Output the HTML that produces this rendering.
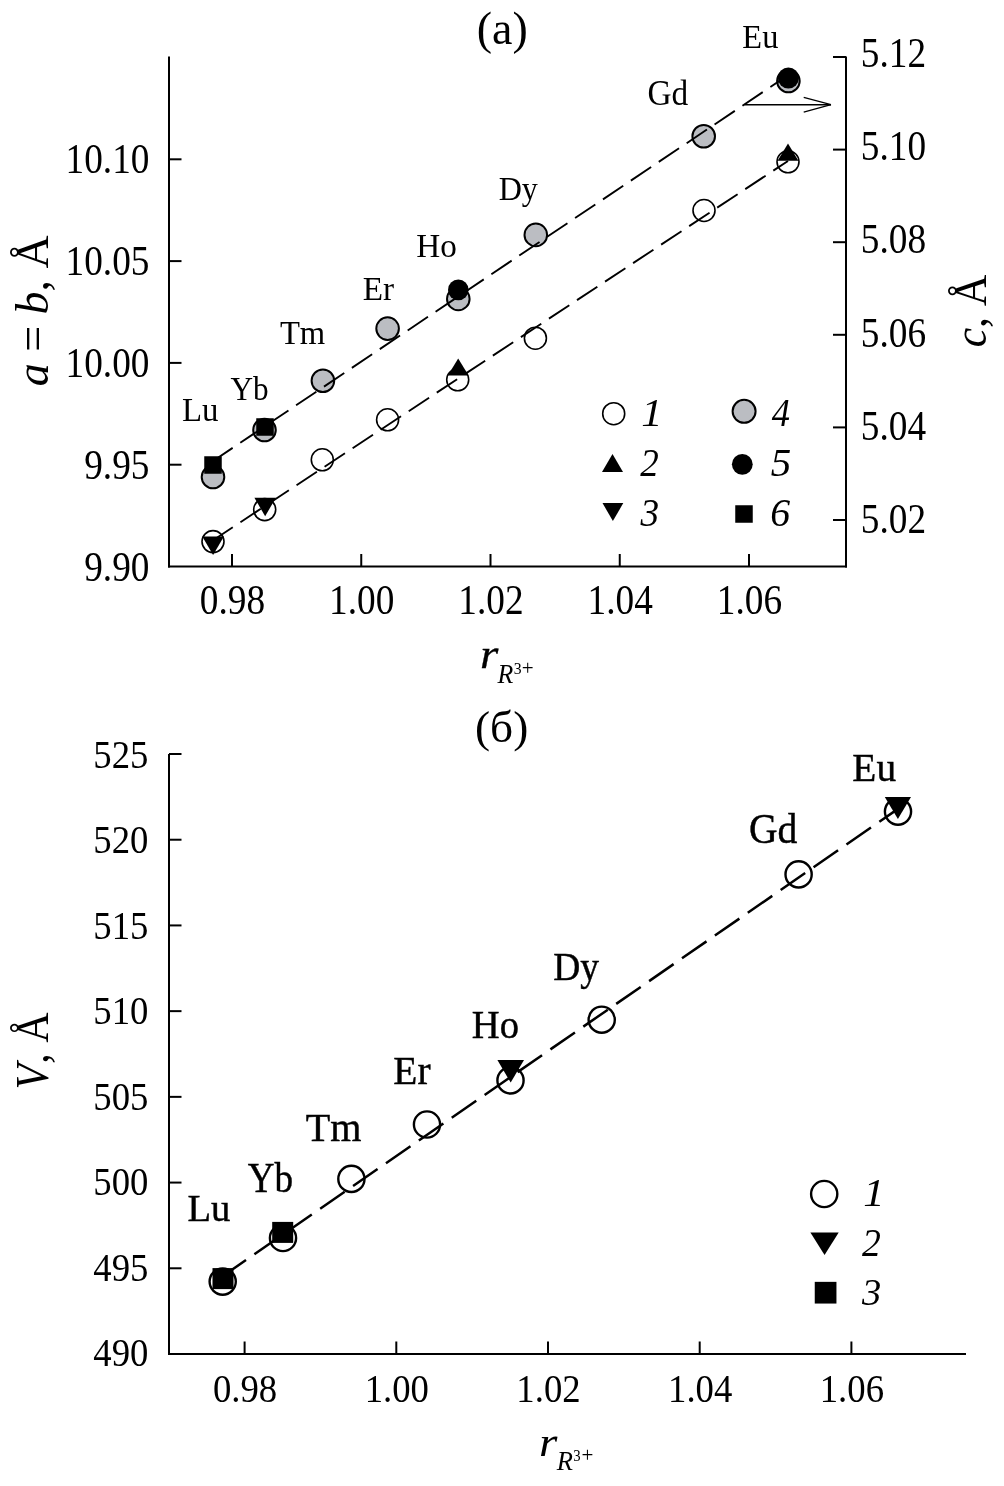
<!DOCTYPE html>
<html><head><meta charset="utf-8"><style>
html,body{margin:0;padding:0;background:#fff;width:1004px;height:1486px;overflow:hidden}
svg{display:block;will-change:transform}
text{font-family:"Liberation Serif",serif;fill:#000}
</style></head><body>
<svg width="1004" height="1486" viewBox="0 0 1004 1486">
<line x1="169.00" y1="56.50" x2="169.00" y2="567.50" stroke="#000" stroke-width="2" />
<line x1="846.00" y1="56.50" x2="846.00" y2="567.50" stroke="#000" stroke-width="2" />
<line x1="168.00" y1="566.50" x2="847.00" y2="566.50" stroke="#000" stroke-width="2" />
<line x1="169.00" y1="159.30" x2="181.50" y2="159.30" stroke="#000" stroke-width="2" />
<text transform="translate(65.53,173.30) scale(0.9050,1)" font-size="41.20" ><tspan font-style="normal" font-weight="normal">10.10</tspan></text>
<line x1="169.00" y1="261.10" x2="181.50" y2="261.10" stroke="#000" stroke-width="2" />
<text transform="translate(65.56,275.10) scale(0.9050,1)" font-size="41.20" ><tspan font-style="normal" font-weight="normal">10.05</tspan></text>
<line x1="169.00" y1="362.90" x2="181.50" y2="362.90" stroke="#000" stroke-width="2" />
<text transform="translate(65.53,376.90) scale(0.9050,1)" font-size="41.20" ><tspan font-style="normal" font-weight="normal">10.00</tspan></text>
<line x1="169.00" y1="464.70" x2="181.50" y2="464.70" stroke="#000" stroke-width="2" />
<text transform="translate(84.21,478.70) scale(0.9050,1)" font-size="41.20" ><tspan font-style="normal" font-weight="normal">9.95</tspan></text>
<text transform="translate(84.17,580.50) scale(0.9050,1)" font-size="41.20" ><tspan font-style="normal" font-weight="normal">9.90</tspan></text>
<line x1="833.00" y1="57.00" x2="846.00" y2="57.00" stroke="#000" stroke-width="2" />
<text transform="translate(860.83,67.00) scale(0.9050,1)" font-size="41.20" ><tspan font-style="normal" font-weight="normal">5.12</tspan></text>
<line x1="833.00" y1="149.60" x2="846.00" y2="149.60" stroke="#000" stroke-width="2" />
<text transform="translate(860.83,160.20) scale(0.9050,1)" font-size="41.20" ><tspan font-style="normal" font-weight="normal">5.10</tspan></text>
<line x1="833.00" y1="242.20" x2="846.00" y2="242.20" stroke="#000" stroke-width="2" />
<text transform="translate(860.83,253.40) scale(0.9050,1)" font-size="41.20" ><tspan font-style="normal" font-weight="normal">5.08</tspan></text>
<line x1="833.00" y1="334.80" x2="846.00" y2="334.80" stroke="#000" stroke-width="2" />
<text transform="translate(860.83,346.60) scale(0.9050,1)" font-size="41.20" ><tspan font-style="normal" font-weight="normal">5.06</tspan></text>
<line x1="833.00" y1="427.40" x2="846.00" y2="427.40" stroke="#000" stroke-width="2" />
<text transform="translate(860.83,439.80) scale(0.9050,1)" font-size="41.20" ><tspan font-style="normal" font-weight="normal">5.04</tspan></text>
<line x1="833.00" y1="520.00" x2="846.00" y2="520.00" stroke="#000" stroke-width="2" />
<text transform="translate(860.83,533.00) scale(0.9050,1)" font-size="41.20" ><tspan font-style="normal" font-weight="normal">5.02</tspan></text>
<line x1="232.00" y1="566.50" x2="232.00" y2="554.00" stroke="#000" stroke-width="2" />
<text transform="translate(199.87,614.00) scale(0.9050,1)" font-size="41.20" ><tspan font-style="normal" font-weight="normal">0.98</tspan></text>
<line x1="361.25" y1="566.50" x2="361.25" y2="554.00" stroke="#000" stroke-width="2" />
<text transform="translate(329.12,614.00) scale(0.9050,1)" font-size="41.20" ><tspan font-style="normal" font-weight="normal">1.00</tspan></text>
<line x1="490.50" y1="566.50" x2="490.50" y2="554.00" stroke="#000" stroke-width="2" />
<text transform="translate(458.37,614.00) scale(0.9050,1)" font-size="41.20" ><tspan font-style="normal" font-weight="normal">1.02</tspan></text>
<line x1="619.75" y1="566.50" x2="619.75" y2="554.00" stroke="#000" stroke-width="2" />
<text transform="translate(587.62,614.00) scale(0.9050,1)" font-size="41.20" ><tspan font-style="normal" font-weight="normal">1.04</tspan></text>
<line x1="749.00" y1="566.50" x2="749.00" y2="554.00" stroke="#000" stroke-width="2" />
<text transform="translate(716.87,614.00) scale(0.9050,1)" font-size="41.20" ><tspan font-style="normal" font-weight="normal">1.06</tspan></text>
<circle cx="213.00" cy="541.60" r="11.0" fill="none" stroke="#000" stroke-width="1.6"/>
<circle cx="264.70" cy="509.60" r="11.0" fill="none" stroke="#000" stroke-width="1.6"/>
<circle cx="322.30" cy="459.80" r="11.0" fill="none" stroke="#000" stroke-width="1.6"/>
<circle cx="387.60" cy="419.80" r="11.0" fill="none" stroke="#000" stroke-width="1.6"/>
<circle cx="457.70" cy="379.80" r="11.0" fill="none" stroke="#000" stroke-width="1.6"/>
<circle cx="535.40" cy="338.20" r="11.0" fill="none" stroke="#000" stroke-width="1.6"/>
<circle cx="704.00" cy="210.50" r="11.0" fill="none" stroke="#000" stroke-width="1.6"/>
<circle cx="788.00" cy="161.80" r="11.0" fill="none" stroke="#000" stroke-width="1.6"/>
<circle cx="213.00" cy="477.00" r="11.3" fill="#bbbdc2" stroke="#000" stroke-width="2"/>
<circle cx="264.50" cy="430.00" r="11.3" fill="#bbbdc2" stroke="#000" stroke-width="2"/>
<circle cx="322.90" cy="380.80" r="11.3" fill="#bbbdc2" stroke="#000" stroke-width="2"/>
<circle cx="387.60" cy="328.60" r="11.3" fill="#bbbdc2" stroke="#000" stroke-width="2"/>
<circle cx="458.30" cy="298.90" r="11.3" fill="#bbbdc2" stroke="#000" stroke-width="2"/>
<circle cx="535.80" cy="234.90" r="11.3" fill="#bbbdc2" stroke="#000" stroke-width="2"/>
<circle cx="703.70" cy="136.20" r="11.3" fill="#bbbdc2" stroke="#000" stroke-width="2"/>
<circle cx="788.40" cy="81.00" r="11.3" fill="#bbbdc2" stroke="#000" stroke-width="2"/>
<circle cx="458.30" cy="289.90" r="10.3" fill="#000"/>
<circle cx="788.40" cy="78.00" r="10.5" fill="#000"/>
<rect x="204.25" y="456.25" width="17.5" height="17.5" fill="#000"/>
<rect x="256.25" y="418.25" width="17.5" height="17.5" fill="#000"/>
<polygon points="458.20,358.4 468.6,375.6 447.8,375.6" fill="#000"/>
<polygon points="788.00,143.6 798.4,160.8 777.6,160.8" fill="#000"/>
<polygon points="202.3,536.6 223.9,536.6 213.10,555" fill="#000"/>
<polygon points="254.4,497.8 275.9,497.8 265.15,516.2" fill="#000"/>
<line x1="212.40" y1="461.50" x2="788.40" y2="74.89" stroke="#000" stroke-width="1.9" stroke-dasharray="24.4 9.2"/>
<line x1="212.40" y1="540.70" x2="788.00" y2="160.92" stroke="#000" stroke-width="1.9" stroke-dasharray="24.4 9.2"/>
<line x1="744.50" y1="104.70" x2="831.00" y2="104.70" stroke="#000" stroke-width="1.6" />
<line x1="803.70" y1="97.40" x2="831.00" y2="104.70" stroke="#000" stroke-width="1.2" />
<line x1="803.70" y1="112.20" x2="831.00" y2="104.70" stroke="#000" stroke-width="1.2" />
<text transform="translate(182.05,420.80) scale(0.9966,1)" font-size="32.98" ><tspan font-style="normal" font-weight="normal">Lu</tspan></text>
<text transform="translate(230.45,399.60) scale(0.9333,1)" font-size="33.44" ><tspan font-style="normal" font-weight="normal">Yb</tspan></text>
<text transform="translate(279.91,343.80) scale(0.9823,1)" font-size="33.28" ><tspan font-style="normal" font-weight="normal">Tm</tspan></text>
<text transform="translate(362.84,299.60) scale(0.9669,1)" font-size="34.35" ><tspan font-style="normal" font-weight="normal">Er</tspan></text>
<text transform="translate(416.24,257.10) scale(0.9591,1)" font-size="34.66" ><tspan font-style="normal" font-weight="normal">Ho</tspan></text>
<text transform="translate(498.67,199.90) scale(0.9518,1)" font-size="33.74" ><tspan font-style="normal" font-weight="normal">Dy</tspan></text>
<text transform="translate(647.43,104.50) scale(0.9460,1)" font-size="35.27" ><tspan font-style="normal" font-weight="normal">Gd</tspan></text>
<text transform="translate(742.37,48.40) scale(0.9645,1)" font-size="33.59" ><tspan font-style="normal" font-weight="normal">Eu</tspan></text>
<circle cx="613.70" cy="413.70" r="11.0" fill="none" stroke="#000" stroke-width="1.6"/>
<circle cx="744.10" cy="411.30" r="11.5" fill="#bbbdc2" stroke="#000" stroke-width="2"/>
<polygon points="612.50,454.1 623,472 602,472" fill="#000"/>
<circle cx="742.30" cy="464.30" r="10.4" fill="#000"/>
<polygon points="602.5,503.1 623.3,503.1 612.90,521" fill="#000"/>
<rect x="735.25" y="505.25" width="17.5" height="17.5" fill="#000"/>
<text transform="translate(641.18,425.90) scale(1.0566,1)" font-size="40.30" ><tspan font-style="italic" font-weight="normal">1</tspan></text>
<text transform="translate(640.18,475.50) scale(0.9337,1)" font-size="39.70" ><tspan font-style="italic" font-weight="normal">2</tspan></text>
<text transform="translate(640.55,525.50) scale(0.9354,1)" font-size="39.85" ><tspan font-style="italic" font-weight="normal">3</tspan></text>
<text transform="translate(771.81,425.60) scale(0.9138,1)" font-size="39.85" ><tspan font-style="italic" font-weight="normal">4</tspan></text>
<text transform="translate(770.76,475.50) scale(0.9965,1)" font-size="41.06" ><tspan font-style="italic" font-weight="normal">5</tspan></text>
<text transform="translate(770.29,525.50) scale(0.9697,1)" font-size="41.06" ><tspan font-style="italic" font-weight="normal">6</tspan></text>
<text transform="translate(476.78,43.72) scale(1.0124,1)" font-size="45.42" ><tspan font-style="normal" font-weight="normal">(a)</tspan></text>
<text transform="translate(47.80,386.37) rotate(-90) scale(0.9796,1)" font-size="46.97" ><tspan font-style="italic" font-weight="normal">a</tspan><tspan font-style="normal" font-weight="normal"> = </tspan><tspan font-style="italic" font-weight="normal">b</tspan><tspan font-style="normal" font-weight="normal">, Å</tspan></text>
<text transform="translate(985.70,347.34) rotate(-90) scale(0.9376,1)" font-size="46.52" ><tspan font-style="italic" font-weight="normal">c</tspan><tspan font-style="normal" font-weight="normal">, Å</tspan></text>
<text transform="translate(479.89,667.50) scale(1.1014,1)" font-size="42.87" stroke="#000" stroke-width="0.3"><tspan font-style="italic" font-weight="normal">r</tspan></text>
<text transform="translate(497.44,682.80) scale(0.9728,1)" font-size="26.57" ><tspan font-style="italic" font-weight="normal">R</tspan></text>
<text transform="translate(513.85,673.60) scale(0.9137,1)" font-size="17.22" ><tspan font-style="normal" font-weight="normal">3</tspan></text>
<text transform="translate(521.65,675.00) scale(0.9915,1)" font-size="21.24" ><tspan font-style="normal" font-weight="normal">+</tspan></text>
<line x1="169.00" y1="754.00" x2="169.00" y2="1355.00" stroke="#000" stroke-width="2" />
<line x1="168.00" y1="1354.00" x2="966.00" y2="1354.00" stroke="#000" stroke-width="2" />
<line x1="169.00" y1="754.00" x2="181.50" y2="754.00" stroke="#000" stroke-width="2" />
<text transform="translate(93.35,767.70) scale(0.9000,1)" font-size="40.80" ><tspan font-style="normal" font-weight="normal">525</tspan></text>
<line x1="169.00" y1="839.72" x2="181.50" y2="839.72" stroke="#000" stroke-width="2" />
<text transform="translate(93.32,853.24) scale(0.9000,1)" font-size="40.80" ><tspan font-style="normal" font-weight="normal">520</tspan></text>
<line x1="169.00" y1="925.43" x2="181.50" y2="925.43" stroke="#000" stroke-width="2" />
<text transform="translate(93.35,938.78) scale(0.9000,1)" font-size="40.80" ><tspan font-style="normal" font-weight="normal">515</tspan></text>
<line x1="169.00" y1="1011.14" x2="181.50" y2="1011.14" stroke="#000" stroke-width="2" />
<text transform="translate(93.32,1024.32) scale(0.9000,1)" font-size="40.80" ><tspan font-style="normal" font-weight="normal">510</tspan></text>
<line x1="169.00" y1="1096.86" x2="181.50" y2="1096.86" stroke="#000" stroke-width="2" />
<text transform="translate(93.35,1109.86) scale(0.9000,1)" font-size="40.80" ><tspan font-style="normal" font-weight="normal">505</tspan></text>
<line x1="169.00" y1="1182.57" x2="181.50" y2="1182.57" stroke="#000" stroke-width="2" />
<text transform="translate(93.32,1195.40) scale(0.9000,1)" font-size="40.80" ><tspan font-style="normal" font-weight="normal">500</tspan></text>
<line x1="169.00" y1="1268.29" x2="181.50" y2="1268.29" stroke="#000" stroke-width="2" />
<text transform="translate(93.35,1280.94) scale(0.9000,1)" font-size="40.80" ><tspan font-style="normal" font-weight="normal">495</tspan></text>
<text transform="translate(93.32,1366.48) scale(0.9000,1)" font-size="40.80" ><tspan font-style="normal" font-weight="normal">490</tspan></text>
<line x1="244.60" y1="1354.00" x2="244.60" y2="1341.50" stroke="#000" stroke-width="2" />
<text transform="translate(212.97,1402.00) scale(0.9000,1)" font-size="40.80" ><tspan font-style="normal" font-weight="normal">0.98</tspan></text>
<line x1="396.30" y1="1354.00" x2="396.30" y2="1341.50" stroke="#000" stroke-width="2" />
<text transform="translate(364.67,1402.00) scale(0.9000,1)" font-size="40.80" ><tspan font-style="normal" font-weight="normal">1.00</tspan></text>
<line x1="548.00" y1="1354.00" x2="548.00" y2="1341.50" stroke="#000" stroke-width="2" />
<text transform="translate(516.37,1402.00) scale(0.9000,1)" font-size="40.80" ><tspan font-style="normal" font-weight="normal">1.02</tspan></text>
<line x1="699.70" y1="1354.00" x2="699.70" y2="1341.50" stroke="#000" stroke-width="2" />
<text transform="translate(668.07,1402.00) scale(0.9000,1)" font-size="40.80" ><tspan font-style="normal" font-weight="normal">1.04</tspan></text>
<line x1="851.40" y1="1354.00" x2="851.40" y2="1341.50" stroke="#000" stroke-width="2" />
<text transform="translate(819.77,1402.00) scale(0.9000,1)" font-size="40.80" ><tspan font-style="normal" font-weight="normal">1.06</tspan></text>
<circle cx="222.70" cy="1281.60" r="13.1" fill="none" stroke="#000" stroke-width="2.4"/>
<circle cx="283.00" cy="1238.00" r="13.1" fill="none" stroke="#000" stroke-width="2.4"/>
<circle cx="351.40" cy="1178.90" r="13.1" fill="none" stroke="#000" stroke-width="2.4"/>
<circle cx="427.00" cy="1124.50" r="13.1" fill="none" stroke="#000" stroke-width="2.4"/>
<circle cx="510.50" cy="1080.40" r="13.1" fill="none" stroke="#000" stroke-width="2.4"/>
<circle cx="601.70" cy="1019.70" r="13.1" fill="none" stroke="#000" stroke-width="2.4"/>
<circle cx="798.60" cy="874.40" r="13.1" fill="none" stroke="#000" stroke-width="2.4"/>
<circle cx="898.00" cy="811.60" r="13.1" fill="none" stroke="#000" stroke-width="2.4"/>
<rect x="212.50" y="1268.10" width="21" height="21" fill="#000"/>
<rect x="272.20" y="1221.90" width="21" height="21" fill="#000"/>
<polygon points="497.4,1060 524,1060 510.70,1082.6" fill="#000"/>
<polygon points="884.8,797 911,797 897.90,819" fill="#000"/>
<line x1="221.50" y1="1277.00" x2="898.00" y2="808.86" stroke="#000" stroke-width="2.5" stroke-dasharray="29.8 10.2"/>
<text transform="translate(187.39,1221.10) scale(0.9913,1)" font-size="38.93" stroke="#000" stroke-width="0.45"><tspan font-style="normal" font-weight="normal">Lu</tspan></text>
<text transform="translate(247.68,1191.80) scale(0.8854,1)" font-size="41.98" stroke="#000" stroke-width="0.45"><tspan font-style="normal" font-weight="normal">Yb</tspan></text>
<text transform="translate(305.68,1140.70) scale(1.0253,1)" font-size="39.08" stroke="#000" stroke-width="0.45"><tspan font-style="normal" font-weight="normal">Tm</tspan></text>
<text transform="translate(393.37,1083.90) scale(0.9737,1)" font-size="40.46" stroke="#000" stroke-width="0.45"><tspan font-style="normal" font-weight="normal">Er</tspan></text>
<text transform="translate(471.79,1037.80) scale(0.9763,1)" font-size="39.54" stroke="#000" stroke-width="0.45"><tspan font-style="normal" font-weight="normal">Ho</tspan></text>
<text transform="translate(553.22,980.00) scale(0.9519,1)" font-size="39.39" stroke="#000" stroke-width="0.45"><tspan font-style="normal" font-weight="normal">Dy</tspan></text>
<text transform="translate(748.98,843.30) scale(0.9167,1)" font-size="43.21" stroke="#000" stroke-width="0.45"><tspan font-style="normal" font-weight="normal">Gd</tspan></text>
<text transform="translate(852.37,781.00) scale(0.9580,1)" font-size="41.07" stroke="#000" stroke-width="0.45"><tspan font-style="normal" font-weight="normal">Eu</tspan></text>
<circle cx="824.20" cy="1194.00" r="13.1" fill="none" stroke="#000" stroke-width="2.4"/>
<polygon points="810.4,1232.5 838.7,1232.5 824.55,1255" fill="#000"/>
<rect x="814.75" y="1281.85" width="21.7" height="21.7" fill="#000"/>
<text transform="translate(863.28,1206.40) scale(1.0646,1)" font-size="40.00" ><tspan font-style="italic" font-weight="normal">1</tspan></text>
<text transform="translate(861.98,1256.00) scale(0.9214,1)" font-size="40.91" ><tspan font-style="italic" font-weight="normal">2</tspan></text>
<text transform="translate(862.06,1305.00) scale(1.0020,1)" font-size="38.48" ><tspan font-style="italic" font-weight="normal">3</tspan></text>
<text transform="translate(475.01,741.87) scale(1.0133,1)" font-size="44.76" ><tspan font-style="normal" font-weight="normal">(б)</tspan></text>
<text transform="translate(47.60,1089.50) rotate(-90) scale(0.9193,1)" font-size="45.76" ><tspan font-style="italic" font-weight="normal">V</tspan><tspan font-style="normal" font-weight="normal">, Å</tspan></text>
<text transform="translate(538.89,1455.60) scale(1.0960,1)" font-size="43.08" ><tspan font-style="italic" font-weight="normal">r</tspan></text>
<text transform="translate(556.84,1469.80) scale(0.9922,1)" font-size="26.73" ><tspan font-style="italic" font-weight="normal">R</tspan></text>
<text transform="translate(573.29,1460.60) scale(0.8575,1)" font-size="17.22" ><tspan font-style="normal" font-weight="normal">3</tspan></text>
<text transform="translate(581.45,1462.00) scale(0.9915,1)" font-size="21.24" ><tspan font-style="normal" font-weight="normal">+</tspan></text>
</svg>
</body></html>
